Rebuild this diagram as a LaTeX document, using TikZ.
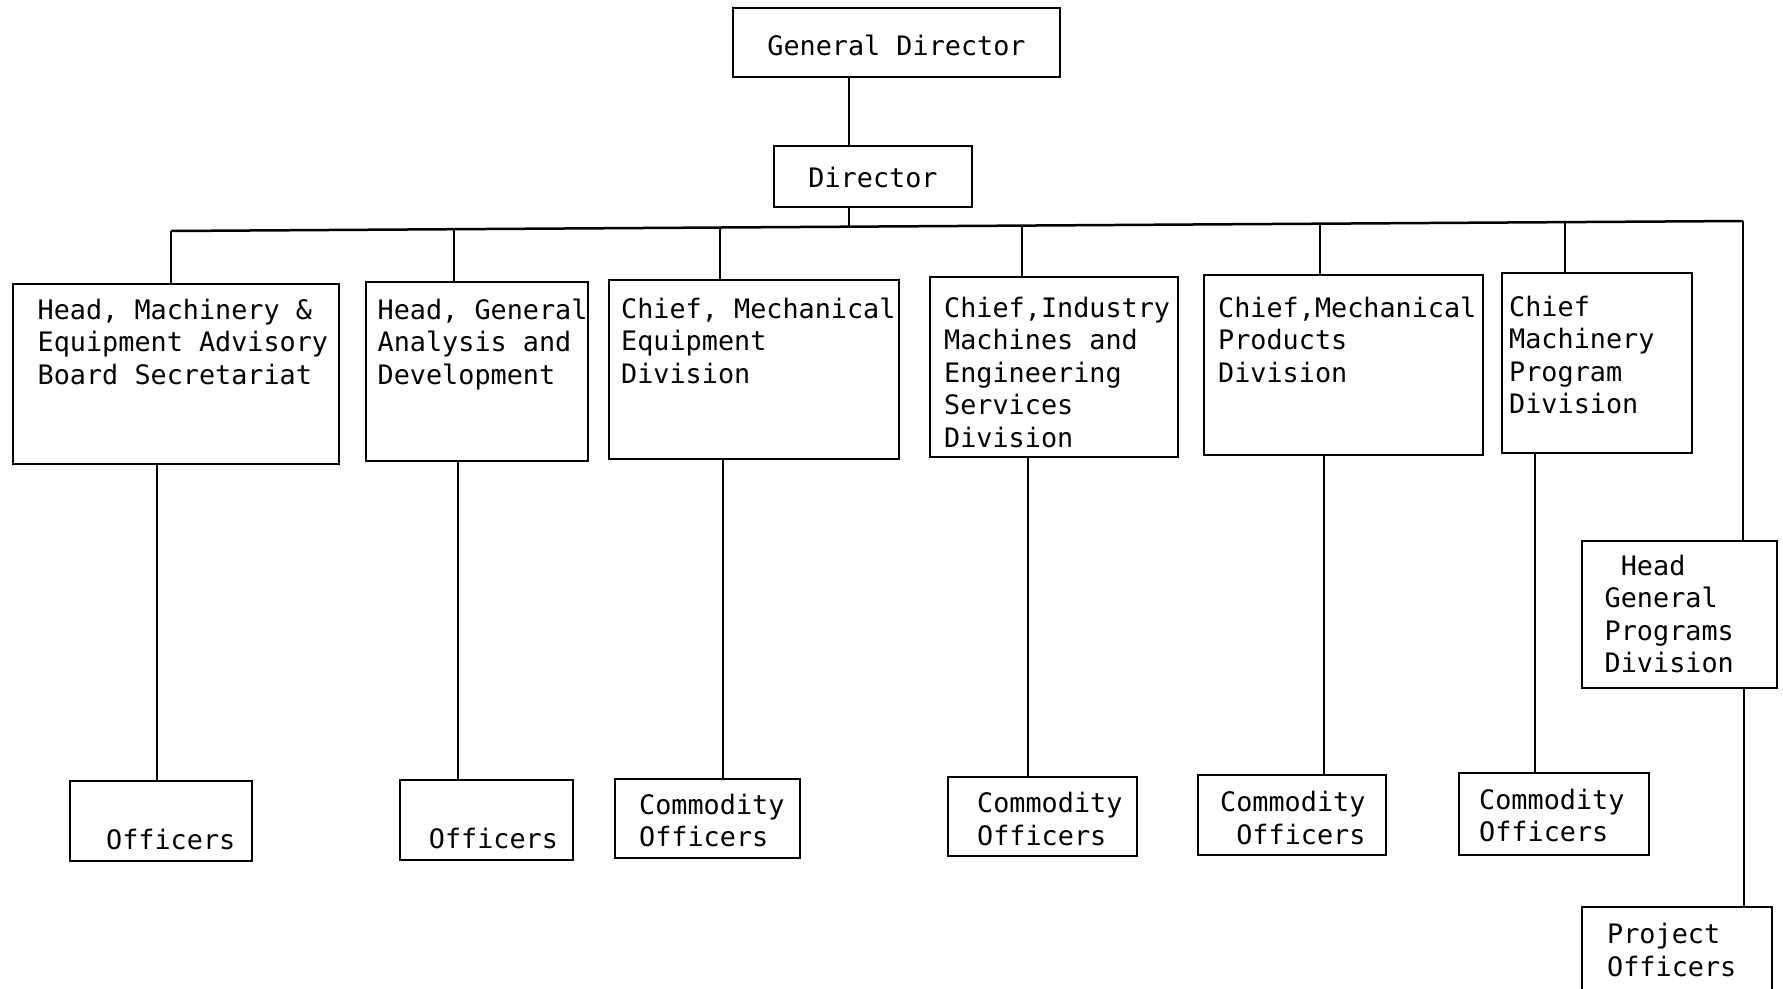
\documentclass[tikz,border=0pt]{standalone}
\usepackage{fontspec}
\newfontfamily\tw{DejaVu Sans Mono}
\begin{document}
\begin{tikzpicture}[x=1pt,y=-1pt,
  box/.style 2 args={draw, line width=2pt, minimum width=#1pt, minimum height=#2pt,
    inner sep=0pt, font=\tw\fontsize{26.8pt}{32.5pt}\selectfont},
  txt/.style={anchor=north west, inner sep=0pt, align=left, yshift=-3.5pt,
    font=\tw\fontsize{26.8pt}{32.5pt}\selectfont},
  conn/.style={line width=1.5pt},
  busline/.style={line width=2.5pt}]
\useasboundingbox (0,0) rectangle (1783,988);
\clip (0,0) rectangle (1783,988);
\fill[white] (0,0) rectangle (1783,988);

% top of the hierarchy
\node[box={327}{69}, text height=26.5pt, text depth=0pt] (gd) at (896.5,42.5) {General Director};
\node[box={198}{61}, text height=22.5pt, text depth=0pt] (dir) at (873,176.5) {Director};

% division heads
\node[box={326}{180}] (h1) at (176,374) {};
\node[box={222}{179}] (h2) at (477,371.5) {};
\node[box={290}{179}] (h3) at (754,369.5) {};
\node[box={248}{180}] (h4) at (1054,367) {};
\node[box={279}{180}] (h5) at (1343.5,365) {};
\node[box={190}{180}] (h6) at (1597,363) {};
\node[box={195}{147}] (gp) at (1679.5,614.5) {};
\node[box={190}{93}] (po) at (1677,953.5) {};

\node[txt] (t1) at (37.5,295) {Head, Machinery \&\\Equipment Advisory\\Board Secretariat};
\node[txt] (t2) at (377.5,295) {Head, General\\Analysis and\\Development};
\node[txt] (t3) at (621,294) {Chief, Mechanical\\Equipment\\Division};
\node[txt] (t4) at (944,293) {Chief,Industry\\Machines and\\Engineering\\Services\\Division};
\node[txt] (t5) at (1218,293) {Chief,Mechanical\\Products\\Division};
\node[txt] (t6) at (1509,292) {Chief\\Machinery\\Program\\Division};
\node[txt] (tgp) at (1604.5,551) {\hphantom{G}Head\\General\\Programs\\Division};
\node[txt] (tpo) at (1607,919.5) {Project\\Officers};

% officers
\node[box={182}{80}] (o1) at (161,821) {};
\node[box={173}{80}] (o2) at (486.5,820) {};
\node[box={185}{79}] (o3) at (707.5,818.5) {};
\node[box={189}{79}] (o4) at (1042.5,816.5) {};
\node[box={188}{80}] (o5) at (1292,815) {};
\node[box={190}{82}] (o6) at (1554,814) {};

\node[txt] (u1) at (106,825) {Officers};
\node[txt] (u2) at (428.7,824) {Officers};
\node[txt] (u3) at (639,790) {Commodity\\Officers};
\node[txt] (u4) at (977,788.7) {Commodity\\Officers};
\node[txt] (u5) at (1220,787.5) {Commodity\\\hphantom{C}Officers};
\node[txt] (u6) at (1479,785) {Commodity\\Officers};

% bus and its tap points
\coordinate (bL) at (171,231);
\coordinate (bR) at (1743,221);
\coordinate (c0) at (849,226.7);
\coordinate (b1) at (171,231);
\coordinate (b2) at (454,229.2);
\coordinate (b3) at (720,227.5);
\coordinate (b4) at (1022,225.6);
\coordinate (b5) at (1320,223.7);
\coordinate (b6) at (1565,222.1);

% drop columns to the officers
\coordinate (d1) at (157,0);
\coordinate (d2) at (458,0);
\coordinate (d3) at (723,0);
\coordinate (d4) at (1028,0);
\coordinate (d5) at (1324,0);
\coordinate (d6) at (1535,0);
\coordinate (dr) at (1744,0);

\draw[conn] (gd.south -| c0) -- (dir.north -| c0);
\draw[conn] (dir.south -| c0) -- (c0);
\draw[busline] (bL) -- (bR);

\foreach \i in {1,...,6}{
  \draw[conn] (b\i) -- (b\i |- h\i.north);
  \draw[conn] (h\i.south -| d\i) -- (o\i.north -| d\i);
}

\draw[conn] (bR) -- (bR |- gp.north);
\draw[conn] (gp.south -| dr) -- (po.north -| dr);
\end{tikzpicture}
\end{document}
